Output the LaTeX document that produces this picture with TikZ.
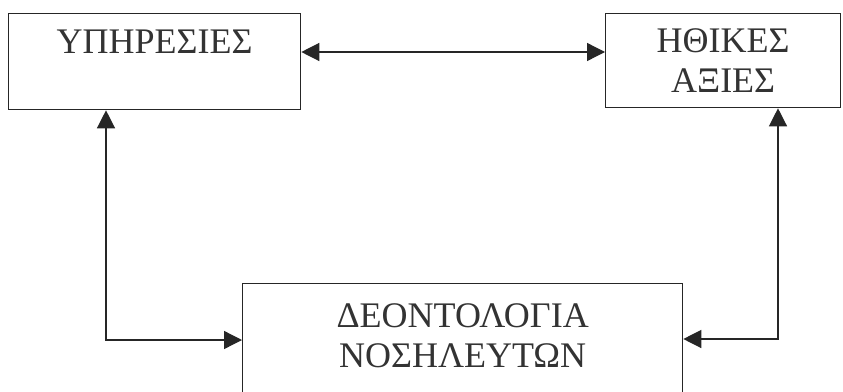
\documentclass[tikz,border=0pt]{standalone}
\usepackage{fontspec}
\setmainfont{Liberation Serif}
\usetikzlibrary{arrows.meta}
\tikzset{
  frame/.style={draw=black!85, line width=1.3pt, inner sep=0pt, align=center,
    text=black!80, font=\fontsize{36}{40}\selectfont},
  link/.style={draw=black!85, line width=1.3pt,
    {Triangle[length=18pt,width=18pt]}-{Triangle[length=18pt,width=18pt]}}
}
\begin{document}
\begin{tikzpicture}[x=1pt,y=-1pt]
  \useasboundingbox[fill=white] (0,0) rectangle (843,391);
  \clip (0,0) rectangle (843,391);

  % three boxes
  \node[frame, anchor=north west, minimum width=292pt, minimum height=96pt]
    (ypi) at (8,13) {ΥΠΗΡΕΣΙΕΣ\\\mbox{}};
  \node[frame, anchor=north west, minimum width=235pt, minimum height=94pt]
    (ith) at (605,13) {ΗΘΙΚΕΣ\\ΑΞΙΕΣ};
  \node[frame, anchor=north west, minimum width=440pt, minimum height=144pt]
    (deon) at (242,283) {ΔΕΟΝΤΟΛΟΓΙΑ\\ΝΟΣΗΛΕΥΤΩΝ\\\mbox{}};

  % routing points of the connectors
  \coordinate (toprow) at (0,52);
  \coordinate (lcorner) at (106,340);
  \coordinate (rcorner) at (778,339);

  % connectors
  \draw[link] (ypi.east |- toprow) -- (ith.west |- toprow);
  \draw[link] (ypi.south -| lcorner) |- (deon.west |- lcorner);
  \draw[link] (ith.south -| rcorner) |- (deon.east |- rcorner);
\end{tikzpicture}
\end{document}
